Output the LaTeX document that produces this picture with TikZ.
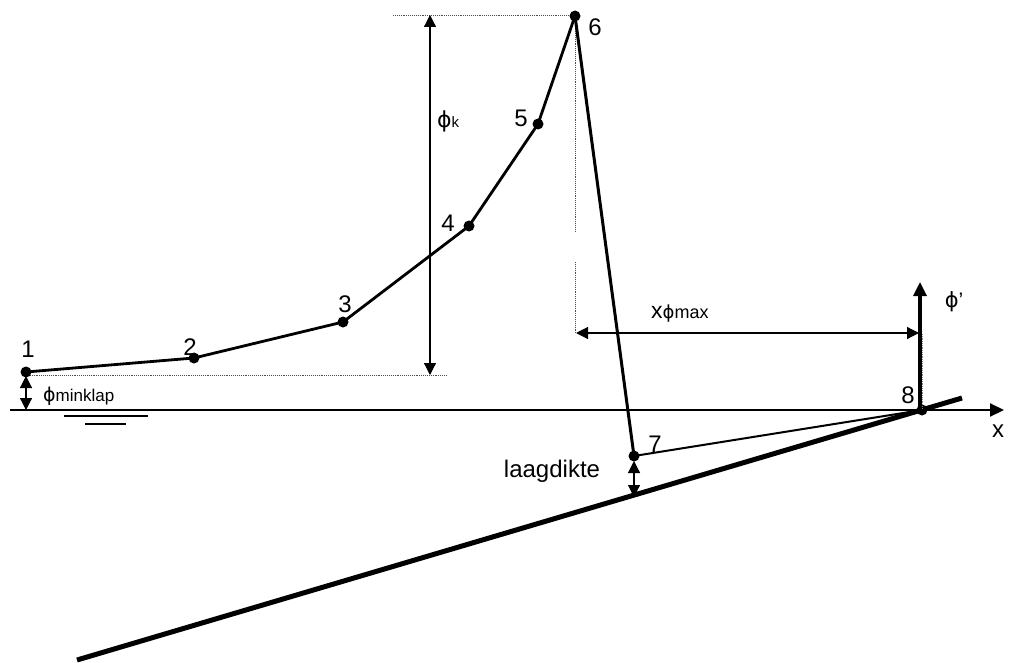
\documentclass[tikz,border=0pt]{standalone}
\usepackage{fontspec}
\setmainfont{Liberation Sans}
\newfontfamily\phif{DejaVu Sans}
\usetikzlibrary{arrows.meta}
\newcommand\fsz[1]{\fontsize{#1}{#1}\selectfont}
\newcommand\ph{{\phif ϕ}}
\begin{document}
\begin{tikzpicture}[x=1pt,y=-1pt,
  dot/.style={circle,fill=black,inner sep=0pt,minimum size=11pt},
  lbl/.style={inner sep=0pt,font=\fsz{24}},
  curve/.style={line width=2.8pt,line join=round},
  dimline/.style={line width=1.2pt,{Triangle[length=12pt,width=12pt]}-{Triangle[length=12pt,width=12pt]}},
  aux/.style={line width=0.9pt,densely dotted,gray!60!black},
  tip/.style={-{Triangle[length=14pt,width=13pt]}}]
\useasboundingbox (0,0) rectangle (1024,663);
% auxiliary dotted lines
\coordinate (h1a) at (26,375); \coordinate (h1b) at (447,375);
\coordinate (h6a) at (393,15); \coordinate (h6b) at (575,15);
\coordinate (v6a) at (575,16); \coordinate (v6b) at (575,232);
\coordinate (v6c) at (575,262); \coordinate (v6d) at (575,333);
\draw[aux] (h1a) -- (h1b);
\draw[aux] (h6a) -- (h6b);
\draw[aux] (v6a) -- (v6b);
\draw[aux] (v6c) -- (v6d);
% water line / x axis
\coordinate (w0) at (10,410); \coordinate (xend) at (1004,410);
\draw[line width=2pt,tip] (w0) -- (xend);
\node[lbl] (xl) at (998,431) {x};
% water level symbol
\coordinate (s1a) at (64,416); \coordinate (s1b) at (148,416);
\coordinate (s2a) at (85,424); \coordinate (s2b) at (126,424);
\draw[line width=1.5pt] (s1a) -- (s1b);
\draw[line width=1.5pt] (s2a) -- (s2b);
% bed line
\coordinate (b0) at (77,660); \coordinate (b1) at (962,398);
\draw[line width=5pt] (b0) -- (b1);
% points
\node[dot] (p1) at (26,372) {};
\node[dot] (p2) at (194,358) {};
\node[dot] (p3) at (343,322) {};
\node[dot] (p4) at (469,226) {};
\node[dot] (p5) at (538,124) {};
\node[dot] (p6) at (575,16) {};
\node[dot] (p7) at (634,456) {};
\node[dot] (p8) at (922,410) {};
\draw[curve] (p1.center) -- (p2.center) -- (p3.center) -- (p4.center) -- (p5.center) -- (p6.center);
\draw[line width=3pt] (p6.center) -- (p7.center);
\draw[line width=2pt] (p7.center) -- (p8.center);
% phi' axis
\coordinate (fa0) at (920,410); \coordinate (fa1) at (920,282);
\draw[line width=3.2pt,tip] (fa0) -- (fa1);
\coordinate (fd0) at (922,334); \coordinate (fd1) at (922,408);
\draw[line width=0.8pt,densely dotted,gray] (fd0) -- (fd1);
\node[inner sep=0pt,font=\fsz{21}] (fl) at (954,302) {\ph’};
% dimension arrows
\coordinate (k0) at (430,375); \coordinate (k1) at (430,15);
\draw[dimline] (k0) -- (k1);
\node[anchor=base west,inner sep=0pt] (kl) at (437,128) {{\fsz{22}\ph}{\fsz{15}k}};
\coordinate (m0) at (26,376); \coordinate (m1) at (26,410);
\draw[dimline] (m0) -- (m1);
\node[anchor=base west,inner sep=0pt] (ml) at (43,401) {{\fsz{19}\ph}{\fsz{17}minklap}};
\coordinate (xm0) at (576,333); \coordinate (xm1) at (919,333);
\draw[dimline] (xm0) -- (xm1);
\node[anchor=base west,inner sep=0pt] (xml) at (651,318) {{\fsz{23}x}{\fsz{18}\ph max}};
\coordinate (l0) at (634,461); \coordinate (l1) at (634,497);
\draw[dimline] (l0) -- (l1);
\node[anchor=base,inner sep=0pt,font=\fsz{24}] (ll) at (552,477) {laagdikte};
% point labels
\node[lbl] (n1) at (28,349) {1};
\node[lbl] (n2) at (190,347) {2};
\node[lbl] (n3) at (345,304) {3};
\node[lbl] (n4) at (448,223) {4};
\node[lbl] (n5) at (521,118) {5};
\node[lbl] (n6) at (595,27) {6};
\node[lbl] (n7) at (655,444) {7};
\node[lbl] (n8) at (908,395) {8};
\end{tikzpicture}
\end{document}
